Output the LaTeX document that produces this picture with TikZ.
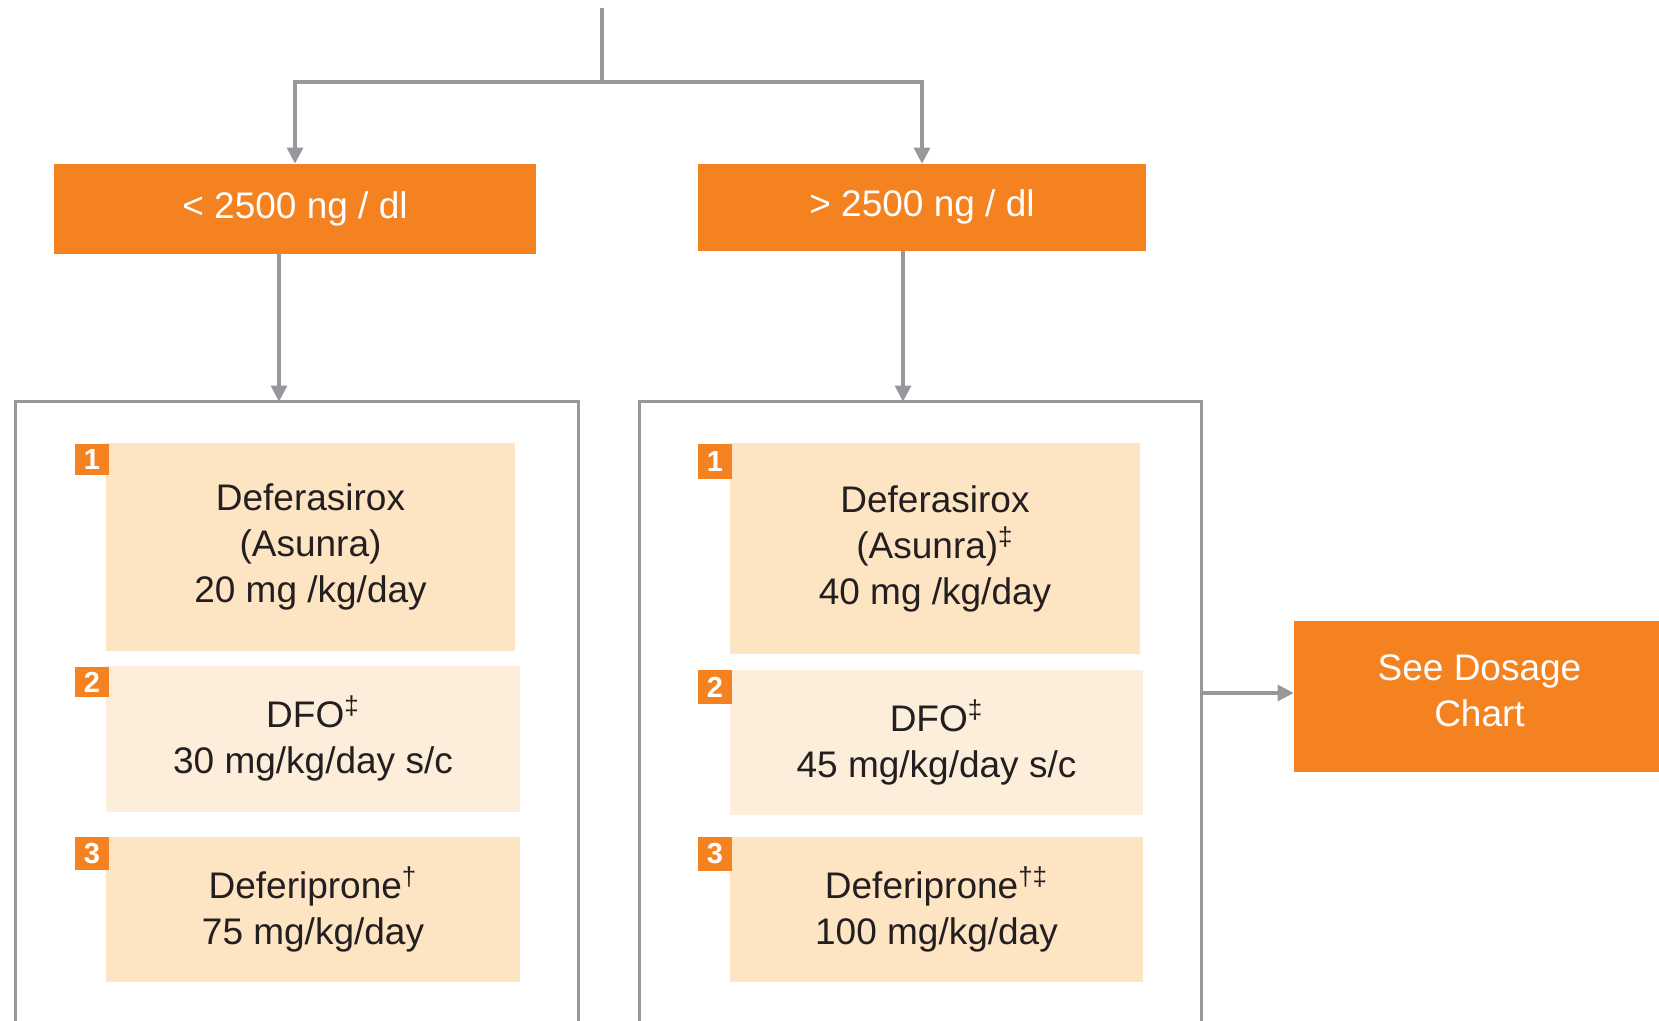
\documentclass[tikz,border=0pt]{standalone}
\usepackage{fontspec}
\setmainfont{Liberation Sans}
\usetikzlibrary{arrows.meta}
\definecolor{orng}{HTML}{F58220}
\definecolor{peach}{HTML}{FDE4C2}
\definecolor{peachlt}{HTML}{FDEEDB}
\definecolor{gline}{HTML}{98989C}
\definecolor{txt}{HTML}{231F20}
\begin{document}
\begin{tikzpicture}[x=0.5pt,y=-0.5pt,
  line/.style={draw=gline,line width=1.6pt},
  arr/.style={line,-{Triangle[width=8pt,length=8pt]}},
  obox/.style={rectangle,fill=orng,inner sep=0pt,text=white,font=\fontsize{18.5}{23}\selectfont,align=center},
  drug/.style={rectangle,inner sep=0pt,text=txt,font=\fontsize{18.5}{23}\selectfont,align=center},
  badge/.style={rectangle,fill=orng,inner sep=0pt,text=white,font=\bfseries\fontsize{14.5}{15}\selectfont},
  panel/.style={rectangle,inner sep=0pt}]
\path[use as bounding box] (0,0) rectangle (1659,1021);
\clip (0,0) rectangle (1659,1021);

% threshold boxes
\node[obox,minimum width=241pt,minimum height=45pt] (lo) at (295,209) {< 2500 ng / dl};
\node[obox,minimum width=224pt,minimum height=43.3pt] (ro) at (922,207.4) {> 2500 ng / dl};

% top split
\coordinate (root) at (602,8);
\coordinate (split) at (602,82);
\draw[line] (root) -- (split);
\draw[arr] (split) -| (lo.north);
\draw[arr] (split) -| (ro.north);

% panels (open at the bottom edge of the picture)
\node[panel,minimum width=281pt,minimum height=329pt] (lpanel) at (297,731) {};
\node[panel,minimum width=280.5pt,minimum height=329pt] (rpanel) at (920.5,731) {};
\draw[line] (lpanel.south west) |- (lpanel.north east) -- (lpanel.south east);
\draw[line] (rpanel.south west) |- (rpanel.north east) -- (rpanel.south east);

\coordinate (lx) at (279,0);
\coordinate (rx) at (903,0);
\draw[arr] (lo.south -| lx) -- (lpanel.north -| lx);
\draw[arr] (ro.south -| rx) -- (rpanel.north -| rx);

% left drug boxes
\node[drug,fill=peach,minimum width=204.5pt,minimum height=104pt] (l1) at (310.5,547) {Deferasirox\\(Asunra)\\20 mg /kg/day};
\node[drug,fill=peachlt,minimum width=207pt,minimum height=73pt] (l2) at (313,738.5) {DFO\textsuperscript{‡}\\30 mg/kg/day s/c};
\node[drug,fill=peach,minimum width=207pt,minimum height=72.5pt] (l3) at (313,909.5) {Deferiprone\textsuperscript{†}\\75 mg/kg/day};
\node[badge,minimum width=17pt,minimum height=15.5pt] (lb1) at (92,459.5) {1};
\node[badge,minimum width=17pt,minimum height=15.25pt] (lb2) at (92,682) {2};
\node[badge,minimum width=17pt,minimum height=16.5pt] (lb3) at (92,853.5) {3};

% right drug boxes
\node[drug,fill=peach,minimum width=204.75pt,minimum height=105.5pt] (r1) at (935,548.5) {Deferasirox\\(Asunra)\textsuperscript{‡}\\40 mg /kg/day};
\node[drug,fill=peachlt,minimum width=206.5pt,minimum height=72.5pt] (r2) at (936.5,742.5) {DFO\textsuperscript{‡}\\45 mg/kg/day s/c};
\node[drug,fill=peach,minimum width=206.5pt,minimum height=72.5pt] (r3) at (936.5,909.5) {Deferiprone\textsuperscript{†‡}\\100 mg/kg/day};
\node[badge,minimum width=17pt,minimum height=17.5pt] (rb1) at (715,461.5) {1};
\node[badge,minimum width=17pt,minimum height=16.75pt] (rb2) at (715,687) {2};
\node[badge,minimum width=17pt,minimum height=17pt] (rb3) at (715,854) {3};

% dosage chart
\node[obox,minimum width=185.5pt,minimum height=75.5pt,text depth=6pt] (dose) at (1479.5,696.5) {See Dosage\\Chart};
\draw[arr] (rpanel.east |- 0,693) -- (dose.west |- 0,693);
\end{tikzpicture}
\end{document}
